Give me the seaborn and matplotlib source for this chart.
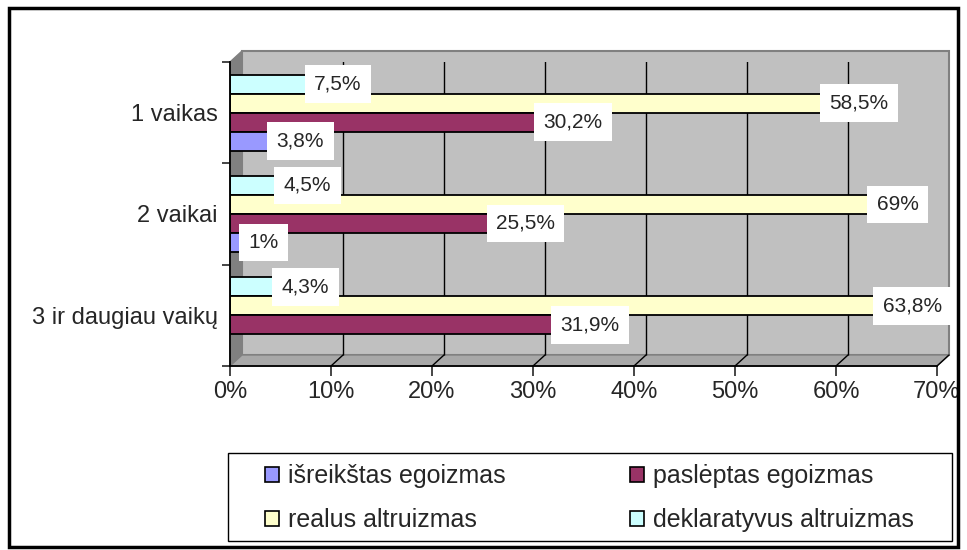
import numpy as np
import pandas as pd
import seaborn as sns
import matplotlib.pyplot as plt
from matplotlib.patches import Patch, Rectangle, Polygon
from matplotlib.transforms import offset_copy

sns.set_style('white')
plt.rcParams['font.family'] = ['Liberation Sans', 'DejaVu Sans']

categories = ['1 vaikas', '2 vaikai', '3 ir daugiau vaikų']
israiskstas = [3.8, 1.0, np.nan]      # no bar for 3 ir daugiau
pasleptas = [30.2, 25.5, 31.9]
realus = [58.5, 69.0, 63.8]
deklaratyvus = [7.5, 4.5, 4.3]

series_names = ['išreikštas egoizmas', 'paslėptas egoizmas',
                'realus altruizmas', 'deklaratyvus altruizmas']
series_vals = [israiskstas, pasleptas, realus, deklaratyvus]
colors = {'išreikštas egoizmas': '#9999FF', 'paslėptas egoizmas': '#993366',
          'realus altruizmas': '#FFFFCC', 'deklaratyvus altruizmas': '#CCFFFF'}
xticks = [0, 10, 20, 30, 40, 50, 60, 70]

rows = []
for name, vals in zip(series_names, series_vals):
    for cat, v in zip(categories, vals):
        rows.append({'kategorija': cat, 'tipas': name, 'reiksme': v})
df = pd.DataFrame(rows)

W, H = 967, 550
fig = plt.figure(figsize=(W / 100, H / 100), dpi=100)
# front plane of the 3d box, in pixels
L, R, T, B = 230, 937, 62, 366
ax = fig.add_axes([L / W, 1 - B / H, (R - L) / W, (B - T) / H])
ax.set_facecolor('none')

# 3d walls
DX, DY = 12, 11
dxa, dya = DX / (R - L), DY / (B - T)
back = offset_copy(ax.transAxes, fig=fig, x=DX, y=DY, units='dots')
ax.add_patch(Rectangle((0, 0), 1, 1, transform=back, facecolor='#C0C0C0',
                       edgecolor='#808080', lw=1.5, zorder=0, clip_on=False))
ax.add_patch(Polygon([(0, 0), (0, 1), (dxa, 1 + dya), (dxa, dya)], closed=True,
                     transform=ax.transAxes, facecolor='#808080', edgecolor='#808080',
                     lw=1, zorder=0.5, clip_on=False))
ax.add_patch(Polygon([(0, 0), (1, 0), (1 + dxa, dya), (dxa, dya)], closed=True,
                     transform=ax.transAxes, facecolor='#A8A8A8', edgecolor='#808080',
                     lw=1, zorder=0.5, clip_on=False))
grid_tr = offset_copy(ax.get_xaxis_transform(), fig=fig, x=DX, y=DY, units='dots')
ax.vlines(xticks[1:-1], 0, 1, transform=grid_tr, color='black', lw=1, zorder=1)
dx_data = dxa * (xticks[-1] - xticks[0])
for t in xticks[1:]:
    ax.plot([t, t + dx_data], [0, dya], transform=ax.get_xaxis_transform(),
            color='black', lw=1, zorder=1, clip_on=False)

draw_order = ['deklaratyvus altruizmas', 'realus altruizmas',
              'paslėptas egoizmas', 'išreikštas egoizmas']
sns.barplot(data=df, y='kategorija', x='reiksme', hue='tipas', hue_order=draw_order,
            order=categories, palette=colors, orient='h', width=0.75,
            edgecolor='black', linewidth=1.3, saturation=1, legend=False, ax=ax, zorder=2)

for cont in ax.containers:
    labels = []
    for bar in cont:
        w = bar.get_width()
        if np.isfinite(w) and w > 0:
            labels.append(f'{w:g}'.replace('.', ',') + '%')
        else:
            labels.append('')
    anns = ax.bar_label(cont, labels=labels, padding=6, fontsize=15, zorder=5,
                        bbox=dict(boxstyle='square,pad=0.45', facecolor='white', edgecolor='none'))
    for bar, ann in zip(cont, anns):
        # label would run off the chart: keep it at the bar end, inside
        if np.isfinite(bar.get_width()) and bar.get_width() > 65:
            ann.set_horizontalalignment('right')
            ann.xyann = (-6, 0)

ax.set_xlim(0, 70)
ax.set_ylim(len(categories) - 0.5, -0.5)
ax.set_xticks(xticks)
ax.set_xticklabels([f'{t}%' for t in xticks])
ax.set_yticks(range(len(categories)))
ax.set_yticks(np.arange(len(categories) + 1) - 0.5, minor=True)
ax.tick_params(axis='x', length=7, width=1.2, labelsize=17, pad=4, direction='out', bottom=True)
ax.tick_params(axis='y', which='major', length=0, labelsize=17, pad=9)
ax.tick_params(axis='y', which='minor', length=6, width=1.2, direction='out', left=True)
ax.set_xlabel('')
ax.set_ylabel('')
for side in ['top', 'right']:
    ax.spines[side].set_visible(False)
for side in ['left', 'bottom']:
    ax.spines[side].set_color('black')
    ax.spines[side].set_linewidth(1.3)
    ax.spines[side].set_zorder(3)

# legend
legend_order = ['išreikštas egoizmas', 'realus altruizmas',
                'paslėptas egoizmas', 'deklaratyvus altruizmas']
handles = [Patch(facecolor=colors[n], edgecolor='black', lw=1.2) for n in legend_order]
fig.add_artist(Rectangle((228 / W, 1 - 541 / H), (952 - 228) / W, (541 - 453) / H,
                         transform=fig.transFigure, fill=False, edgecolor='black', lw=1.0))
leg = fig.legend(handles, legend_order, ncol=2, loc='upper left',
                 bbox_to_anchor=(265 / W, 1 - 464 / H),
                 frameon=False, fontsize=18,
                 handlelength=0.55, handleheight=0.55, handletextpad=0.35,
                 borderaxespad=0, borderpad=0, labelspacing=0.8, columnspacing=5.0)

# outer border
fig.patches.append(Rectangle((9 / W, 1 - 547 / H), (958 - 9) / W, (547 - 8) / H,
                             transform=fig.transFigure, fill=False,
                             edgecolor='black', lw=2.5))

fig.savefig('out.png', dpi=100)
